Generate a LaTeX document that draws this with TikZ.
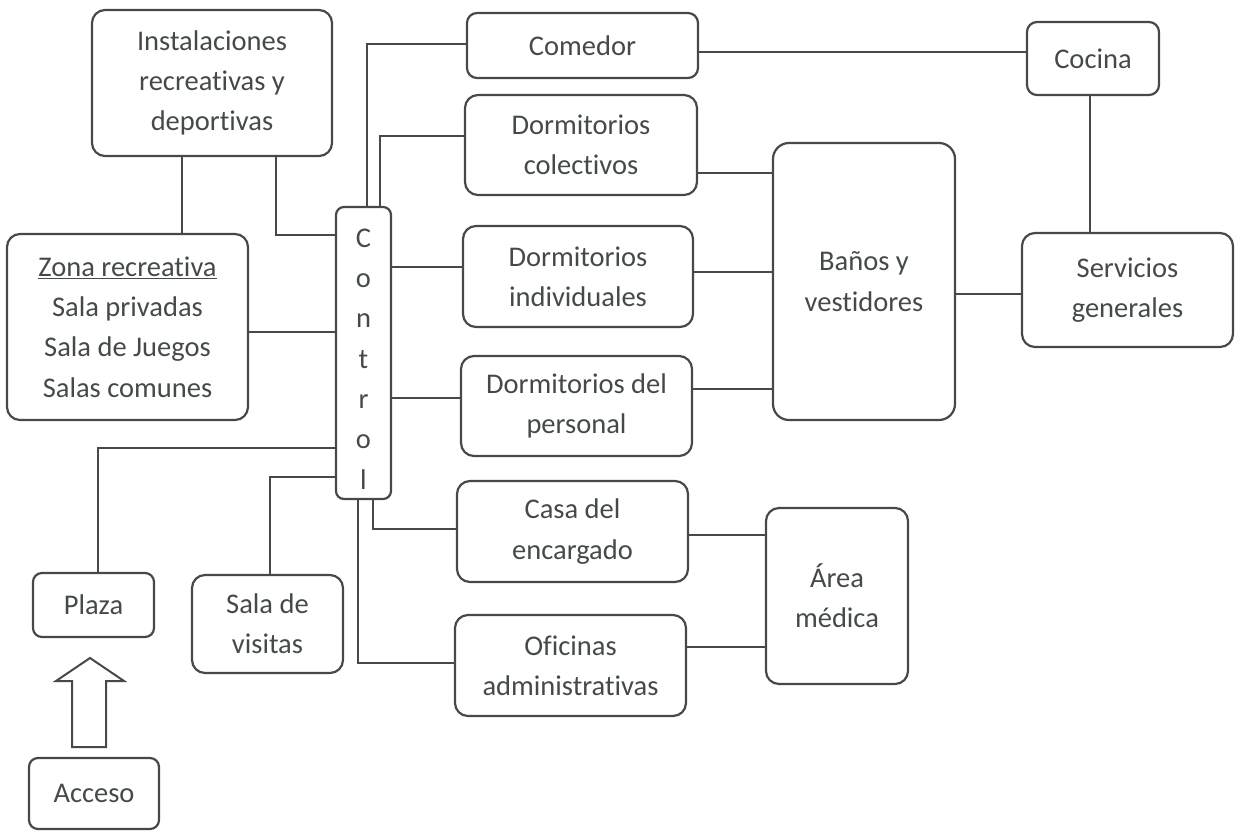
\documentclass[tikz,border=0pt]{standalone}
\usepackage{fontspec}
\setmainfont{Carlito}[Ligatures=NoCommon]
\definecolor{ink}{RGB}{68,74,74}
\begin{document}
\begin{tikzpicture}[x=1pt,y=-1pt,
  txt/.style={align=center, text=ink, font=\fontsize{28.5}{40.3}\selectfont, inner sep=0pt},
  box/.style={txt, draw=ink, line width=2.2pt, rounded corners=13pt},
  link/.style={draw=ink, line width=2pt}]
\useasboundingbox (0,0) rectangle (1242,831);
% nodes
\node[box, minimum width=240, minimum height=146] (inst) at (212,83) {Instalaciones\\recreativas y\\deportivas};
\node[box, minimum width=241, minimum height=186] (zona) at (127.5,327) {\underline{Zona recreativa}\\Sala privadas\\Sala de Juegos\\Salas comunes};
\node[box, minimum width=55, minimum height=292, rounded corners=8pt] (ctrl) at (363.5,353) {};
\node[txt] (ctrltext) at ([yshift=-6pt]ctrl.center) {C\\o\\n\\t\\r\\o\\l};
\node[box, minimum width=231, minimum height=65, rounded corners=10pt] (comedor) at (582.5,45.5) {Comedor};
\node[box, minimum width=132, minimum height=73, rounded corners=10pt] (cocina) at (1093,58.5) {Cocina};
\node[box, minimum width=232, minimum height=100] (dcol) at (581,145) {Dormitorios\\colectivos};
\node[box, minimum width=230, minimum height=101] (dind) at (578,276.5) {Dormitorios\\individuales};
\node[box, minimum width=231, minimum height=100] (dper) at (576.5,406) {Dormitorios del\\personal};
\node[box, minimum width=182, minimum height=277, rounded corners=16pt] (banos) at (864,281.5) {Baños y\\vestidores};
\node[box, minimum width=211, minimum height=114] (serv) at (1127.5,290) {Servicios\\generales};
\node[box, minimum width=231, minimum height=101] (casa) at (572.5,531.5) {Casa del\\encargado};
\node[box, minimum width=142, minimum height=176] (area) at (837,596) {Área\\médica};
\node[box, minimum width=231, minimum height=101] (ofic) at (570.5,665.5) {Oficinas\\administrativas};
\node[box, minimum width=121, minimum height=64, rounded corners=9pt] (plaza) at (93.5,605) {Plaza};
\node[box, minimum width=151, minimum height=98] (visitas) at (267.5,624) {Sala de\\visitas};
\node[box, minimum width=130, minimum height=71, rounded corners=9pt] (acceso) at (94,793.5) {Acceso};
% connectors
\draw[link] (inst.south -| 182,0) -- (zona.north -| 182,0);
\draw[link] (inst.south -| 276,0) |- (ctrl.west |- 0,235);
\draw[link] (zona.east |- 0,332) -- (ctrl.west |- 0,332);
\draw[link] (ctrl.north -| 367,0) |- (comedor.west |- 0,44);
\draw[link] (ctrl.north -| 380,0) |- (dcol.west |- 0,136);
\draw[link] (ctrl.east |- 0,267) -- (dind.west |- 0,267);
\draw[link] (ctrl.east |- 0,398) -- (dper.west |- 0,398);
\draw[link] (ctrl.west |- 0,448) -| (plaza.north -| 98,0);
\draw[link] (ctrl.west |- 0,477) -| (visitas.north -| 270,0);
\draw[link] (ctrl.south -| 373,0) |- (casa.west |- 0,529);
\draw[link] (ctrl.south -| 358,0) |- (ofic.west |- 0,663);
\draw[link] (dcol.east |- 0,173) -- (banos.west |- 0,173);
\draw[link] (dind.east |- 0,272) -- (banos.west |- 0,272);
\draw[link] (dper.east |- 0,389) -- (banos.west |- 0,389);
\draw[link] (banos.east |- 0,294) -- (serv.west |- 0,294);
\draw[link] (comedor.east |- 0,52) -- (cocina.west |- 0,52);
\draw[link] (cocina.south -| 1090,0) -- (serv.north -| 1090,0);
\draw[link] (casa.east |- 0,535) -- (area.west |- 0,535);
\draw[link] (ofic.east |- 0,647) -- (area.west |- 0,647);
% block arrow from Acceso to Plaza
\coordinate (tip) at (90,658);
\draw[link, line join=miter] (tip) -- ++(34,23) -- ++(-18,0) -- ++(0,66) -- ++(-34,0) -- ++(0,-66) -- ++(-16,0) -- cycle;
\end{tikzpicture}
\end{document}
